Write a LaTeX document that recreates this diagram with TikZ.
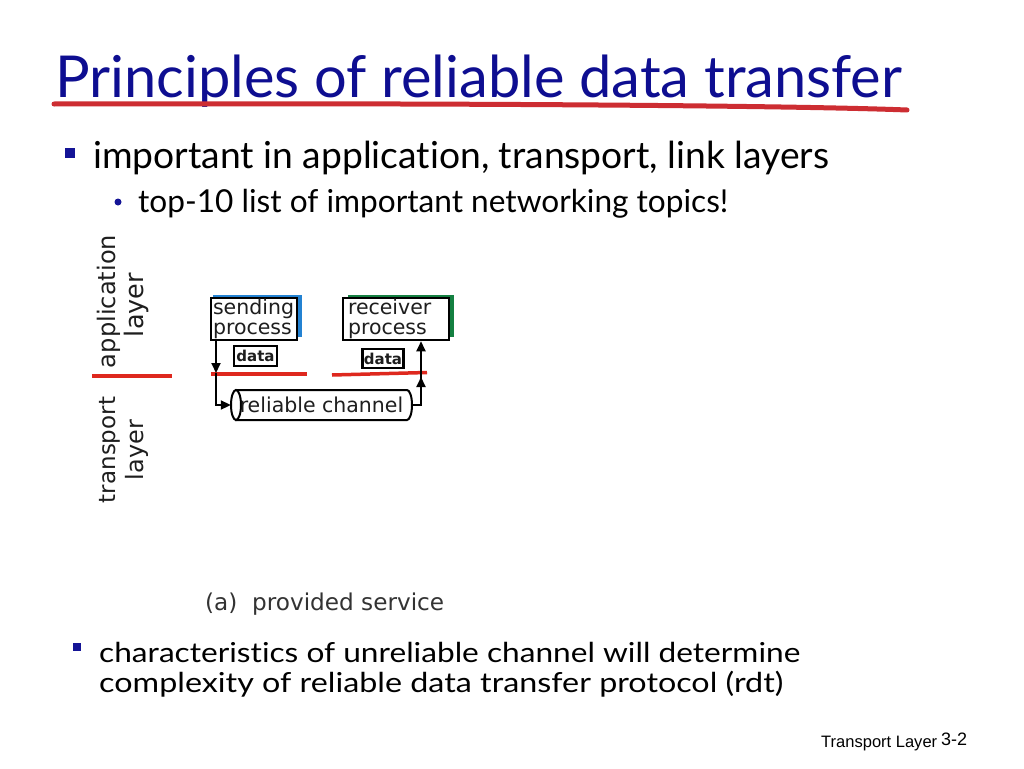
\documentclass[tikz,border=0pt]{standalone}
\usepackage{graphicx}
\usepackage{fontspec}
\setmainfont{Lato}[RawFeature={-liga;-dlig;-clig}]
\newfontfamily\diagfont{DejaVu Sans}
\newfontfamily\footfont{Liberation Sans}
\usetikzlibrary{arrows.meta}
\definecolor{titleblue}{RGB}{14,14,145}
\definecolor{bulletblue}{RGB}{20,20,150}
\definecolor{underred}{RGB}{205,45,50}
\definecolor{layerred}{RGB}{222,40,30}
\definecolor{shadblue}{RGB}{35,130,210}
\definecolor{shadgreen}{RGB}{20,128,65}
\definecolor{diagink}{RGB}{30,30,30}
\newcommand{\fitw}[2]{\resizebox{#1}{!}{#2}}
\newcommand{\fitx}[2]{\resizebox{#1}{\height}{#2}}
\tikzset{
  txt/.style={anchor=base west, inner sep=0pt, text=black},
  bulletsq/.style={fill=bulletblue, minimum size=#1, inner sep=0pt},
  procbox/.style={draw=black, line width=2.5pt, fill=white, minimum height=42pt,
    inner ysep=0pt, align=left, text=diagink,
    font=\diagfont\fontsize{20.5}{20.5}\selectfont},
  databox/.style={draw=black, line width=2.3pt, fill=white, inner sep=0pt,
    text=diagink, font=\diagfont\bfseries\fontsize{15}{16}\selectfont},
  layerline/.style={draw=layerred, line width=3.5pt},
  layerlbl/.style={rotate=90, anchor=base, inner sep=0pt, text=diagink},
  arr/.style={draw=black, line width=2pt, line join=miter,
    -{Triangle[length=10pt,width=9pt]}},
  plain/.style={draw=black, line width=2pt, line join=miter},
}
\begin{document}
\begin{tikzpicture}[x=1pt,y=-1pt]
\useasboundingbox[fill=white] (0,0) rectangle (1024,768);

% title
\node[txt, text=titleblue] (title) at (55,97)
  {\fitw{847pt}{\fontsize{52}{60}\selectfont Principles of reliable data transfer}};
\draw[underred, line width=5pt, line cap=round]
  (54,104) .. controls (400,103) and (780,105) .. (907,110);

% bullets
\node[bulletsq=10pt] (b1) at (70,153) {};
\node[txt] (t1) at (93,168)
  {\fitw{736pt}{\fontsize{34}{40}\selectfont important in application, transport, link layers}};
\node[circle, fill=bulletblue, minimum size=7pt, inner sep=0pt] (b2) at (118,202) {};
\node[txt] (t2) at (138,212)
  {\fitw{590pt}{\fontsize{29}{34}\selectfont top-10 list of important networking topics!}};

% layer labels
\node[layerlbl] (app) at (115,301.5)
  {\fitw{133pt}{\diagfont\fontsize{23}{24}\selectfont application}};
\node[layerlbl] (lay1) at (143,305)
  {\fitw{64pt}{\diagfont\fontsize{23}{24}\selectfont layer}};
\node[layerlbl] (trn) at (115,450)
  {\fitw{106pt}{\diagfont\fontsize{23}{24}\selectfont transport}};
\node[layerlbl] (lay2) at (143,450)
  {\fitw{60pt}{\diagfont\fontsize{23}{24}\selectfont layer}};
\draw[layerline] (92,376) -- (172,376);

% process boxes with coloured shadows
\fill[shadblue] (213,295) rectangle (302,337);
\node[procbox, text width=82pt, inner xsep=2pt] (send) at (254,319)
  {sending\\process};
\fill[shadgreen] (348,295) rectangle (454,337);
\node[procbox, text width=96pt, inner xsep=5pt] (recv) at (396,319)
  {receiver\\process};

% data boxes
\node[databox, minimum width=43pt, minimum height=20pt] (data1) at (255.5,356) {data};
\node[databox, minimum width=41pt, minimum height=19pt] (data2) at (383,358.5) {data};

% red interface lines
\draw[layerline] (211,374) -- (307,374);
\draw[layerline] (332,375) -- (427,372.5);

% reliable channel (cylinder)
\filldraw[fill=white, draw=black, line width=2pt]
  (236,390) -- (407,390) arc[start angle=-90, end angle=90, x radius=5, y radius=15]
  -- (236,420) -- cycle;
\filldraw[fill=white, draw=black, line width=2pt] (236,405) ellipse[x radius=5, y radius=15];
\node[minimum width=181pt, minimum height=30pt, inner sep=0pt, text=diagink,
  font=\diagfont\fontsize{20.5}{22}\selectfont] (chan) at (321.5,405) {reliable channel};

% arrows
\coordinate (l1) at (216,373);
\coordinate (l2) at (216,405);
\coordinate (r1) at (421,377);
\draw[arr] (send.south -| l1) -- (l1);
\draw[arr] (l1) -- (l2) -- (chan.west);
\draw[plain] (chan.east) -| (r1);
\draw[arr] (421,406) -- (r1);
\draw[arr] (r1) -- (r1 |- recv.south);

% caption
\node[txt, text=black!80] (cap) at (205,610)
  {\fitw{239pt}{\diagfont\fontsize{23}{24}\selectfont (a)\ \ provided service}};

% bottom bullet
\node[bulletsq=8pt] (b3) at (77,647) {};
\node[txt] (t3) at (99,662)
  {\fitx{701pt}{\fontsize{27.5}{32}\selectfont characteristics of unreliable channel will determine}};
\node[txt] (t4) at (99,692)
  {\fitx{684pt}{\fontsize{27.5}{32}\selectfont complexity of reliable data transfer protocol (rdt)}};

% footer
\node[txt] (foot) at (821,747)
  {\fitw{116pt}{\footfont\fontsize{17}{20}\selectfont Transport Layer}};
\node[txt] (pg) at (941,745)
  {\fitw{26pt}{\footfont\fontsize{17}{20}\selectfont 3-2}};
\end{tikzpicture}
\end{document}
